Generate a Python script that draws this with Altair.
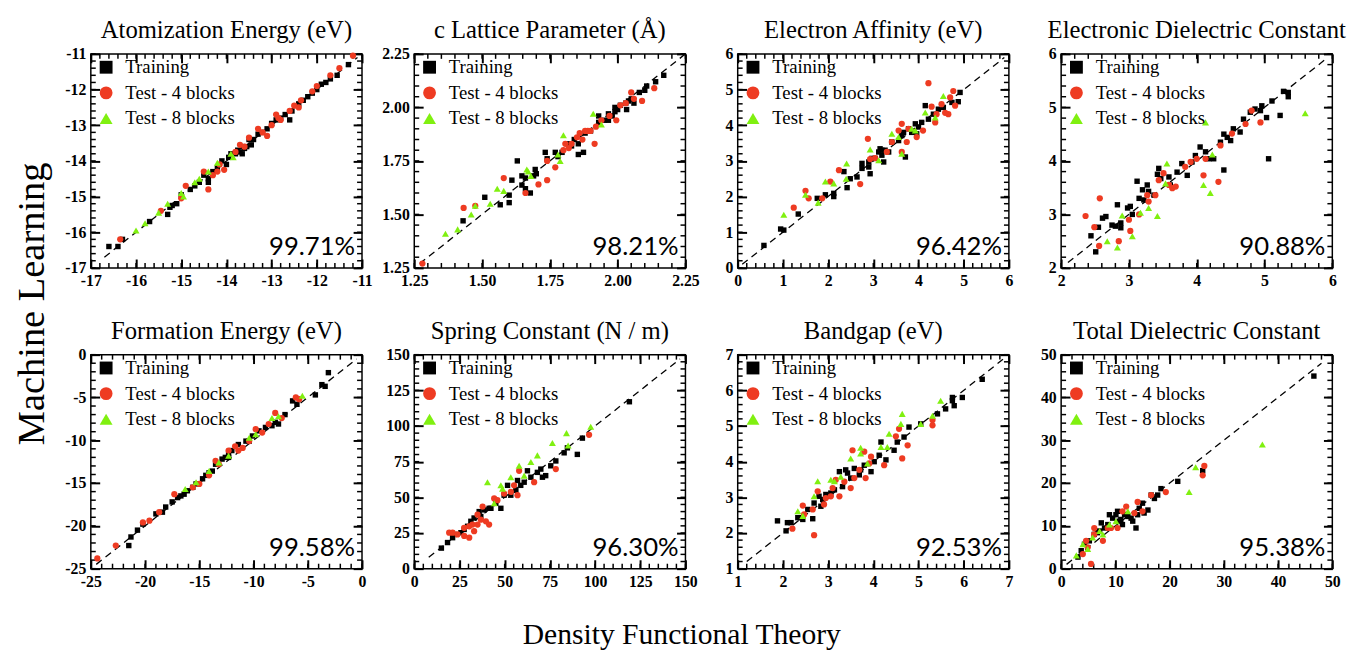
import altair as alt
import pandas as pd

# ---------------- data ----------------
SERIES = ["Training", "Test - 4 blocks", "Test - 8 blocks"]
COLORS = ["#000000", "#EE3B22", "#80F010"]
SHAPES = ["square", "circle", "triangle-up"]
SIZES = [30, 40, 50]

TITLES = ["Atomization Energy (eV)", "c Lattice Parameter (Å)", "Electron Affinity (eV)",
          "Electronic  Dielectric Constant", "Formation Energy (eV)", "Spring Constant (N / m)",
          "Bandgap (eV)", "Total  Dielectric Constant"]
SCORES = ["99.71%", "98.21%", "96.42%", "90.88%", "99.58%", "96.30%", "92.53%", "95.38%"]
AXIS_MIN = [-17, 1.25, 0, 2, -25, 0, 1, 0]
AXIS_MAX = [-11, 2.25, 6, 6, 0, 150, 7, 50]
MAJOR_STEP = [1, 0.25, 1, 1, 5, 25, 1, 10]
MINOR_STEP = [0.2, 0.05, 0.2, 0.2, 1, 5, 0.2, 2]
DIAG_LO = [-16.7, 1.27, 0.1, 2.1, -24.5, 8, 1.2, 1]
DIAG_HI = [-11.1, 2.25, 5.9, 5.9, -0.5, 147, 6.9, 48]

atom_train = [(-16.6, -16.4), (-16.4, -16.4), (-16.3, -16.2), (-15.7, -15.7), (-15.3, -15.5), (-15.25, -15.3),
              (-15.2, -15.25), (-15.1, -15.2), (-14.8, -14.8), (-14.6, -14.6), (-14.5, -14.4), (-14.4, -14.6),
              (-14.3, -14.3), (-14.2, -14.2), (-14.1, -14.0), (-14.0, -14.1), (-13.95, -13.9), (-13.9, -13.8),
              (-13.8, -13.8), (-13.75, -13.7), (-13.7, -13.75), (-13.65, -13.6), (-13.6, -13.65), (-13.55, -13.6),
              (-13.5, -13.4), (-13.45, -13.55), (-13.4, -13.4), (-13.3, -13.25), (-13.2, -13.2), (-13.1, -13.1),
              (-13.0, -12.95), (-12.9, -12.85), (-12.8, -12.8), (-12.7, -12.7), (-12.6, -12.85), (-12.55, -12.6),
              (-12.4, -12.4), (-12.3, -12.3), (-12.2, -12.2), (-12.1, -12.1), (-12.0, -12.0), (-11.9, -11.85),
              (-11.8, -11.8), (-11.7, -11.7), (-11.55, -11.6), (-11.3, -11.3), (-13.65, -13.8), (-14.4, -14.5),
              (-15.0, -14.95), (-14.7, -14.7)]
atom_test4 = [(-16.35, -16.2), (-15.45, -15.4), (-15.0, -15.05), (-14.9, -14.7), (-14.4, -14.8), (-14.5, -14.3),
              (-14.3, -14.4), (-14.2, -14.3), (-14.15, -14.1), (-13.8, -13.75), (-13.7, -13.55), (-13.6, -13.6),
              (-13.3, -13.1), (-13.2, -13.2), (-13.1, -13.3), (-13.0, -13.0), (-12.9, -12.7), (-12.85, -12.8),
              (-12.8, -12.85), (-12.6, -12.6), (-12.5, -12.45), (-12.4, -12.5), (-12.35, -12.3), (-12.1, -12.05),
              (-12.0, -11.9), (-11.7, -11.6), (-11.5, -11.4), (-11.2, -11.05), (-13.5, -13.35), (-14.05, -14.25)]
atom_test8 = [(-16.0, -15.95), (-15.8, -15.75), (-15.5, -15.45), (-15.3, -15.2), (-15.0, -14.9), (-14.95, -15.0),
              (-14.7, -14.6), (-14.6, -14.5), (-14.4, -14.3), (-13.9, -13.8), (-13.85, -13.9), (-14.2, -14.05)]

latt_train = [(1.43, 1.47), (1.51, 1.58), (1.567, 1.545), (1.60, 1.555), (1.60, 1.59), (1.61, 1.66), (1.63, 1.75),
              (1.647, 1.637), (1.66, 1.67), (1.678, 1.60), (1.696, 1.71), (1.70, 1.69), (1.733, 1.79), (1.74, 1.76),
              (1.77, 1.79), (1.78, 1.77), (1.82, 1.83), (1.84, 1.85), (1.855, 1.83), (1.855, 1.78), (1.874, 1.79),
              (1.88, 1.88), (1.90, 1.89), (1.93, 1.93), (1.95, 1.94), (1.966, 1.94), (1.98, 1.96), (1.99, 1.98),
              (2.0, 1.99), (2.01, 2.01), (2.03, 2.02), (2.033, 1.99), (2.04, 2.03), (2.05, 2.04), (2.06, 2.02),
              (2.08, 2.07), (2.10, 2.08), (2.107, 2.10), (2.14, 2.12), (2.17, 2.15), (1.69, 1.68), (1.647, 1.68),
              (1.66, 1.62), (1.93, 1.96), (1.966, 1.97), (1.99, 2.0), (1.83, 1.82), (1.795, 1.79)]
latt_test4 = [(1.28, 1.27), (1.432, 1.53), (1.475, 1.54), (1.58, 1.67), (1.66, 1.60), (1.708, 1.64), (1.74, 1.66),
              (1.74, 1.75), (1.77, 1.72), (1.80, 1.80), (1.807, 1.83), (1.83, 1.83), (1.85, 1.86), (1.86, 1.88),
              (1.88, 1.89), (1.89, 1.89), (1.90, 1.89), (1.915, 1.83), (1.92, 1.91), (1.94, 1.94), (1.97, 1.96),
              (1.995, 1.94), (2.01, 2.01), (2.03, 2.02), (2.05, 2.07), (2.06, 2.04), (2.09, 2.03), (2.135, 2.09),
              (1.82, 1.81), (1.87, 1.85)]
latt_test8 = [(1.365, 1.41), (1.41, 1.43), (1.46, 1.50), (1.475, 1.54), (1.53, 1.55), (1.556, 1.62), (1.58, 1.61),
              (1.665, 1.71), (1.67, 1.70), (1.68, 1.68), (1.788, 1.75), (1.80, 1.87), (1.91, 1.97), (1.94, 1.92),
              (1.78, 1.78)]

ea_train = [(0.58, 0.63), (0.95, 1.09), (1.02, 1.06), (1.34, 1.51), (1.76, 1.95), (1.94, 2.05), (2.125, 2.0),
            (2.125, 2.09), (2.35, 2.7), (2.42, 2.25), (2.49, 2.5), (2.64, 2.55), (2.75, 2.79), (2.75, 2.93),
            (2.9, 2.83), (2.93, 2.64), (2.97, 3.07), (3.12, 3.25), (3.15, 3.34), (3.19, 3.16), (3.23, 2.97),
            (3.26, 3.3), (3.34, 3.25), (3.41, 3.53), (3.56, 3.57), (3.63, 3.71), (3.71, 3.11), (3.78, 3.9),
            (3.85, 3.8), (3.93, 4.04), (4.0, 3.95), (4.07, 4.08), (4.15, 4.55), (4.22, 4.17), (4.33, 4.31),
            (4.44, 4.45), (4.55, 4.5), (4.74, 4.64), (4.88, 4.66), (4.92, 4.92), (3.04, 3.07), (3.19, 3.3),
            (2.9, 2.97), (3.67, 3.8), (3.96, 3.76)]
ea_test4 = [(1.24, 1.69), (1.5, 2.16), (1.57, 1.95), (1.87, 1.95), (2.05, 2.42), (2.24, 2.74), (2.71, 2.35),
            (2.88, 3.62), (2.93, 3.05), (3.04, 3.08), (3.41, 3.53), (3.56, 3.85), (3.63, 4.04), (3.74, 3.53),
            (3.78, 3.9), (3.96, 3.67), (4.1, 3.85), (4.22, 5.18), (4.29, 4.52), (4.40, 4.31), (4.51, 4.59),
            (4.66, 4.31), (4.7, 4.78), (4.77, 4.96), (4.81, 4.55), (4.37, 4.08), (4.59, 4.35), (3.63, 3.25),
            (3.30, 3.25)]
ea_test8 = [(1.02, 1.49), (1.5, 2.05), (1.78, 1.83), (1.94, 2.42), (2.125, 2.37), (2.41, 2.93), (2.4, 2.5),
            (2.93, 3.32), (3.12, 3.02), (3.41, 3.76), (3.56, 3.67), (3.63, 3.2), (3.85, 3.9), (4.15, 4.36),
            (4.37, 4.22), (4.55, 4.82), (3.93, 3.85)]

eps_train = [(2.51, 2.3), (2.44, 2.6), (2.55, 2.76), (2.61, 2.93), (2.66, 2.96), (2.8, 2.78), (2.88, 2.84),
             (2.83, 3.18), (2.88, 2.75), (2.98, 3.12), (3.02, 3.15), (3.05, 3.0), (3.12, 3.62), (3.15, 3.3),
             (3.2, 3.46), (3.22, 3.27), (3.27, 3.55), (3.29, 3.43), (3.37, 3.36), (3.42, 3.75), (3.47, 3.67),
             (3.59, 3.70), (3.61, 3.55), (3.71, 3.79), (3.78, 3.95), (3.86, 3.73), (3.93, 3.98), (3.98, 4.1),
             (4.05, 4.26), (4.13, 4.17), (4.18, 4.04), (4.25, 4.04), (4.4, 3.83), (4.35, 4.35), (4.4, 4.5),
             (4.45, 4.44), (4.5, 4.38), (4.54, 4.6), (4.64, 4.54), (4.69, 4.78), (4.79, 4.91), (4.86, 4.97),
             (4.94, 4.94), (4.96, 5.03), (5.03, 4.81), (5.06, 4.04), (5.11, 5.12), (5.23, 4.85), (5.28, 5.3),
             (5.35, 5.2), (5.35, 5.28), (2.75, 2.8), (3.44, 3.86)]
eps_test4 = [(2.36, 2.97), (2.49, 2.76), (2.57, 3.3), (2.56, 2.41), (2.85, 2.5), (3.02, 2.69), (3.0, 2.9),
             (3.15, 3.0), (3.27, 3.36), (3.39, 3.36), (3.44, 3.64), (3.59, 3.55), (3.64, 3.49), (3.69, 3.52),
             (3.83, 3.89), (3.91, 3.98), (4.0, 4.04), (4.1, 3.73), (4.13, 4.04), (4.32, 3.61), (4.35, 4.29),
             (4.52, 4.51), (4.72, 4.69), (4.94, 4.72), (4.81, 4.94), (3.51, 3.77), (3.29, 3.24)]
eps_test8 = [(2.68, 2.5), (2.83, 2.38), (2.9, 2.98), (3.05, 2.59), (3.29, 3.12), (3.42, 2.97), (3.56, 3.95),
             (3.54, 3.58), (4.1, 3.55), (4.2, 3.4), (4.13, 4.72), (5.6, 4.89), (4.23, 4.12), (3.17, 3.03)]

form_train = [(-21.5, -22.3), (-21.3, -21.3), (-20.7, -20.5), (-20.2, -19.8), (-18.4, -18.4), (-18.1, -17.8),
              (-17.5, -17.2), (-16.7, -16.5), (-16.1, -15.9), (-15.3, -15.1), (-14.7, -14.5), (-14.4, -14.1),
              (-14.1, -13.8), (-13.5, -12.8), (-12.9, -12.2), (-12.6, -12.0), (-12.3, -11.6), (-12.0, -11.2),
              (-11.4, -10.5), (-10.7, -10.1), (-10.1, -9.5), (-9.5, -8.9), (-8.9, -8.5), (-8.3, -8.3),
              (-8.0, -7.9), (-7.7, -8.1), (-7.1, -7.0), (-6.4, -5.4), (-6.0, -5.8), (-4.3, -4.7), (-3.7, -3.5),
              (-3.4, -3.7), (-3.1, -2.1), (-17.0, -16.7), (-15.6, -15.5), (-12.3, -12.0), (-10.4, -10.1),
              (-19.0, -18.6), (-13.8, -13.6), (-16.4, -16.3)]
form_test4 = [(-24.4, -23.8), (-22.7, -22.3), (-20.2, -19.6), (-19.6, -19.4), (-18.7, -18.4), (-17.3, -16.3),
              (-15.6, -15.5), (-15.0, -15.1), (-14.1, -14.1), (-13.5, -12.4), (-12.3, -11.2), (-11.7, -10.7),
              (-11.0, -10.9), (-10.4, -10.1), (-9.8, -8.7), (-9.2, -9.1), (-8.6, -8.1), (-8.0, -6.8),
              (-7.4, -7.4), (-6.1, -5.0), (-5.8, -5.2), (-13.2, -12.8), (-11.4, -11.2)]
form_test8 = [(-16.3, -15.7), (-15.3, -14.9), (-14.1, -13.6), (-13.2, -12.6), (-12.3, -11.8), (-10.4, -9.7),
              (-9.8, -9.3), (-8.3, -7.4), (-7.7, -7.2), (-5.5, -4.8)]

spring_train = [(15, 14.4), (18.4, 18.3), (21.2, 21.7), (25.8, 25.2), (27.6, 27.5), (31.3, 33.2), (33.1, 35.5),
                (35.9, 40), (38.7, 41.2), (41.4, 42.3), (45.1, 45.8), (47.9, 42.3), (49.7, 51.5), (53.4, 51.5),
                (56.2, 54.9), (58.9, 58.4), (60.8, 60.6), (62.6, 68.6), (64.5, 64.1), (68.1, 67.5), (70, 69.8),
                (72.7, 65.2), (75.5, 72.1), (78.3, 75.5), (82.9, 81.2), (84.7, 84.7), (90.2, 80.1), (93, 91.5),
                (119, 117), (51.6, 58.4), (36.8, 36.6), (42.4, 42.3), (57.1, 61.8), (70.9, 64.1), (29.5, 29.7),
                (22.1, 24)]
spring_test4 = [(19.3, 25.2), (21.2, 25.2), (23.9, 24), (27.6, 22.9), (30.4, 21.7), (30.4, 29.7), (32.2, 30.9),
                (33.1, 26.3), (35, 30.9), (36.8, 34.3), (37.8, 43.5), (39.6, 33.2), (41.4, 30.9), (44.2, 49.2),
                (46, 48), (49.7, 52.6), (53.4, 53.8), (57.1, 51.5), (58, 68.6), (66.3, 60.6), (78.3, 69.8),
                (96.7, 93.8), (27.6, 28.6), (35, 37.8), (55.2, 58.4)]
spring_test8 = [(40.5, 60.6), (47.9, 58.4), (48.8, 56.1), (53.4, 64.1), (58, 72.1), (60.8, 65.2), (64.5, 74.8),
                (68.1, 79.4), (76.4, 88.1), (84.2, 95), (85.1, 86.3), (97.6, 99.5), (44.2, 45.8)]

gap_train = [(1.88, 2.34), (2.07, 2.06), (2.1, 2.29), (2.18, 2.29), (2.33, 2.43), (2.44, 2.38), (2.55, 2.66),
             (2.66, 2.4), (2.69, 2.84), (2.80, 3.03), (2.88, 2.94), (2.95, 3.08), (3.03, 3.03), (3.14, 3.21),
             (3.25, 3.72), (3.32, 3.3), (3.39, 3.77), (3.43, 3.68), (3.50, 3.54), (3.58, 3.81), (3.69, 3.63),
             (3.8, 3.9), (3.95, 3.72), (4.02, 4.0), (4.13, 4.18), (4.17, 4.55), (4.28, 4.05), (4.46, 4.32),
             (4.53, 4.55), (4.68, 4.69), (4.79, 4.97), (5.05, 5.06), (5.42, 5.34), (5.6, 5.48), (5.75, 5.71),
             (5.79, 5.57), (5.97, 5.8), (6.41, 6.31), (5.75, 5.8), (3.06, 3.12), (2.84, 2.75), (3.72, 3.77),
             (2.40, 2.43)]
gap_test4 = [(2.21, 2.12), (2.44, 2.77), (2.47, 2.52), (2.66, 2.66), (2.69, 1.94), (2.77, 3.17), (2.91, 2.8),
             (2.95, 2.98), (3.10, 3.26), (3.17, 3.49), (3.25, 3.03), (3.36, 3.44), (3.50, 3.26), (3.54, 4.32),
             (3.69, 3.77), (3.80, 4.28), (3.83, 3.54), (3.91, 3.95), (3.95, 4.14), (4.24, 3.9), (4.5, 4.71),
             (4.57, 4.92), (4.64, 4.09), (4.76, 4.46), (5.31, 5.17), (5.31, 5.02), (3.06, 3.03), (3.58, 3.54)]
gap_test8 = [(2.33, 2.61), (2.69, 3.03), (2.77, 3.45), (3.06, 3.49), (3.14, 3.45), (3.28, 3.58), (3.5, 4.09),
             (3.72, 4.23), (3.72, 4.39), (3.87, 3.95), (4.17, 4.41), (4.31, 4.41), (4.35, 4.78), (4.61, 5.06),
             (4.64, 5.34), (5.05, 5.06), (5.31, 5.29), (5.49, 5.71), (2.44, 2.48)]

tot_train = [(3.1, 2.7), (3.7, 4.2), (4.3, 5.7), (5.2, 6.5), (6.1, 8.0), (7.1, 8.8), (7.4, 10.7), (8.0, 9.5),
             (8.6, 10.3), (8.9, 12.6), (9.5, 11.8), (10.1, 12.6), (10.7, 11.1), (11.3, 10.3), (11.7, 12.6),
             (12.3, 12.2), (13.2, 11.1), (13.8, 9.5), (14.1, 12.6), (14.4, 14.1), (15.0, 15.3), (15.3, 13.0),
             (16.0, 13.7), (16.6, 17.2), (17.2, 16.4), (17.8, 17.2), (18.4, 18.7), (21.5, 20.4), (26.1, 22.9),
             (46.6, 45.0), (10.4, 13.4), (6.7, 8.4), (11.0, 11.5), (12.9, 11.8)]
tot_test4 = [(4.0, 3.4), (5.5, 1.1), (4.6, 6.5), (6.1, 8.0), (7.7, 6.5), (8.6, 9.5), (9.2, 9.5), (10.4, 9.5),
             (11.3, 13.4), (12.0, 14.5), (13.5, 13.0), (14.1, 15.6), (15.0, 13.4), (16.6, 17.2), (19.3, 17.9),
             (26.1, 21.8), (26.4, 24.0), (6.1, 9.5), (4.9, 5.0)]
tot_test8 = [(2.8, 3.1), (4.0, 5.7), (4.9, 4.6), (5.8, 7.3), (7.1, 8.8), (8.9, 10.3), (10.1, 11.1), (12.3, 13.4),
             (23.6, 17.9), (24.8, 23.7), (37.1, 29.0), (7.7, 8.0)]

PANEL_DATA = [
    (atom_train, atom_test4, atom_test8),
    (latt_train, latt_test4, latt_test8),
    (ea_train, ea_test4, ea_test8),
    (eps_train, eps_test4, eps_test8),
    (form_train, form_test4, form_test8),
    (spring_train, spring_test4, spring_test8),
    (gap_train, gap_test4, gap_test8),
    (tot_train, tot_test4, tot_test8),
]

# ---------------- chart ----------------
W, H = 275, 217
SERIF = "Liberation Serif"
MAJOR_LEN, MINOR_LEN = 9, 5


def tick_list(lo, hi, step):
    n = int(round((hi - lo) / step))
    return [round(lo + k * step, 6) for k in range(n + 1)]


def panel(i):
    lo, hi = AXIS_MIN[i], AXIS_MAX[i]
    major = tick_list(lo, hi, MAJOR_STEP[i])
    minor = tick_list(lo, hi, MINOR_STEP[i])
    scale = alt.Scale(domain=[lo, hi], nice=False, zero=False)
    lab = "format(datum.value, '.2f')" if i == 1 else "'' + datum.value"

    def lab_axis(orient):
        return alt.Axis(orient=orient, values=major, labelExpr=lab, ticks=False, domain=False,
                        title=None, grid=False, labelOverlap=False, labelFlush=False, labelPadding=5,
                        labelFont=SERIF, labelFontWeight="bold", labelFontSize=16, labelColor="black")

    def in_axis(orient, offset):
        return alt.Axis(orient=orient, offset=offset, values=major, labels=False, domain=False,
                        ticks=True, tickSize=MAJOR_LEN, tickColor="black", tickWidth=2,
                        title=None, grid=False)

    diag = pd.DataFrame({"dft": [DIAG_LO[i], DIAG_HI[i]], "ml": [DIAG_LO[i], DIAG_HI[i]]})

    line = alt.Chart(diag).mark_line(color="black", strokeWidth=1.3, strokeDash=[7, 5]).encode(
        x=alt.X("dft:Q", scale=scale, axis=lab_axis("bottom")),
        y=alt.Y("ml:Q", scale=scale, axis=lab_axis("left")),
    )

    # major inward ticks: extra axes shifted onto the opposite edge, so their ticks point inside
    ghost_a = alt.Chart(diag).mark_point(opacity=0).encode(
        x=alt.X("dft:Q", scale=scale, axis=in_axis("top", -H)),
        y=alt.Y("ml:Q", scale=scale, axis=in_axis("right", -W)),
    )
    ghost_b = alt.Chart(diag).mark_point(opacity=0).encode(
        x=alt.X("dft:Q", scale=scale, axis=in_axis("bottom", -H)),
        y=alt.Y("ml:Q", scale=scale, axis=in_axis("left", -W)),
    )

    # minor inward ticks: short rules in data coordinates along each edge
    dx = (hi - lo) * MINOR_LEN / H
    dy = (hi - lo) * MINOR_LEN / W
    minor_x = pd.DataFrame({"v": minor, "a": [lo] * len(minor), "b": [lo + dx] * len(minor),
                            "c": [hi] * len(minor), "d": [hi - dx] * len(minor)})
    minor_y = pd.DataFrame({"v": minor, "a": [lo] * len(minor), "b": [lo + dy] * len(minor),
                            "c": [hi] * len(minor), "d": [hi - dy] * len(minor)})
    rx = alt.Chart(minor_x).mark_rule(color="black", strokeWidth=1.5)
    ry = alt.Chart(minor_y).mark_rule(color="black", strokeWidth=1.5)
    sx = dict(scale=scale, axis=None)
    minor_layers = [
        rx.encode(x=alt.X("v:Q", **sx), y=alt.Y("a:Q", **sx), y2="b:Q"),
        rx.encode(x=alt.X("v:Q", **sx), y=alt.Y("c:Q", **sx), y2="d:Q"),
        ry.encode(y=alt.Y("v:Q", **sx), x=alt.X("a:Q", **sx), x2="b:Q"),
        ry.encode(y=alt.Y("v:Q", **sx), x=alt.X("c:Q", **sx), x2="d:Q"),
    ]

    legend = alt.Legend(orient="none", legendX=6, legendY=4, title=None, labelFont=SERIF,
                        labelFontSize=19, labelColor="black", symbolSize=170, symbolStrokeWidth=0,
                        rowPadding=6, labelOffset=10, padding=0)
    point_layers = []
    for name, pairs, sz in zip(SERIES, PANEL_DATA[i], SIZES):
        df = pd.DataFrame({"dft": [p[0] for p in pairs], "ml": [p[1] for p in pairs], "set": name})
        point_layers.append(alt.Chart(df).mark_point(filled=True, opacity=1, strokeWidth=0, size=sz).encode(
            x=alt.X("dft:Q", scale=scale, axis=None),
            y=alt.Y("ml:Q", scale=scale, axis=None),
            color=alt.Color("set:N", scale=alt.Scale(domain=SERIES, range=COLORS), legend=legend),
            shape=alt.Shape("set:N", scale=alt.Scale(domain=SERIES, range=SHAPES), legend=legend),
        ))

    txt = alt.Chart(pd.DataFrame({"t": [SCORES[i]]})).mark_text(
        font="Lato", fontSize=26, align="right", baseline="alphabetic", color="black"
    ).encode(text="t:N", x=alt.value(W - 7), y=alt.value(H - 13))

    return alt.layer(line, ghost_a, ghost_b, *minor_layers, *point_layers, txt).resolve_axis(
        x="independent", y="independent"
    ).properties(
        width=W, height=H,
        title=alt.TitleParams(TITLES[i], font=SERIF, fontSize=25, fontWeight="normal", offset=3,
                              frame="group", anchor="middle", color="black"),
    )


def row(idx):
    return alt.hconcat(*[panel(i) for i in idx], spacing=53, bounds="flush").resolve_scale(
        color="independent", shape="independent"
    ).resolve_legend(color="independent", shape="independent")


inner = alt.vconcat(row([0, 1, 2, 3]), row([4, 5, 6, 7]), spacing=29).resolve_scale(
    color="independent", shape="independent"
).resolve_legend(color="independent", shape="independent").properties(
    title=alt.TitleParams("Machine Learning", orient="left", anchor="middle", font=SERIF,
                          fontSize=39, fontWeight="normal", offset=12, color="black")
)

chart = alt.vconcat(inner).resolve_scale(
    color="independent", shape="independent"
).resolve_legend(color="independent", shape="independent").properties(
    title=alt.TitleParams("Density Functional Theory", orient="bottom", anchor="middle", font=SERIF,
                          fontSize=30, fontWeight="normal", offset=31, color="black"),
    padding={"left": 5, "top": 5, "right": 5, "bottom": 0},
).configure_view(stroke="black", strokeWidth=1.5).configure_axis(grid=False)

chart.save("out.html", embed_options={"renderer": "svg", "actions": False})
